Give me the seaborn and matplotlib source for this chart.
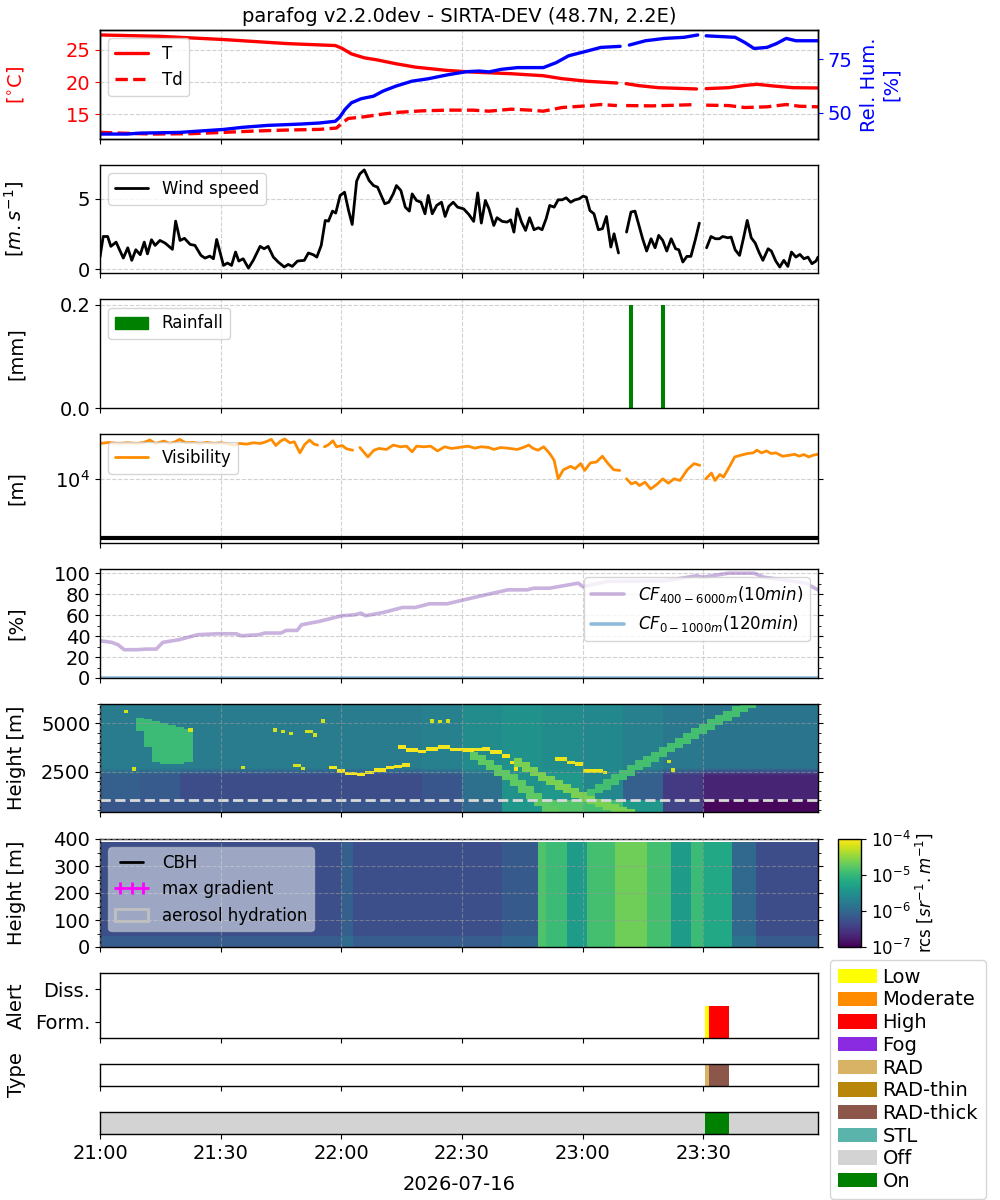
import numpy as np
import pandas as pd
import matplotlib
matplotlib.use("Agg")
import matplotlib.pyplot as plt
import matplotlib.dates as mdates
from matplotlib.colors import LogNorm
from matplotlib.lines import Line2D
from matplotlib.patches import Patch
from matplotlib.ticker import MultipleLocator, FixedLocator, NullLocator
import seaborn as sns

# ---------------------------------------------------------------- data
START = pd.Timestamp("2026-07-16 21:00")
DATE_LABEL = "2026-07-16"
TITLE = "parafog v2.2.0dev - SIRTA-DEV (48.7N, 2.2E)"
X_END_MIN = 178.5
nan = np.nan

# temperature / dew point / relative humidity (minutes after 21:00)
t_min = [0, 14.8, 30.7, 46.6, 54.5, 58.5, 60.1, 62.5, 65.7, 68.8, 73.6, 78.4, 86.3, 92.7,
         102.2, 110.2, 114.9, 121.3, 128.5, 129.7, 130.8, 134, 138.8, 143.6, 148.3, 149.5,
         150.7, 156.3, 160.3, 163.4, 167.4, 172.2, 178.5]
t_degc = [27.31, 27.1, 26.6, 25.97, 25.77, 25.67, 25.26, 24.38, 23.77, 23.46, 22.85, 22.33,
          21.82, 21.56, 21.31, 21.0, 20.54, 20.13, 19.87, nan, 19.77, 19.46, 19.15, 19.05,
          18.95, nan, 19.0, 19.15, 19.5, 19.67, 19.41, 19.15, 19.1]
td_min = [0, 6.8, 13.2, 22.7, 30.7, 38.6, 46.6, 54.5, 58.8, 60.1, 61.7, 65.7, 69.6, 73.6,
          80, 86.3, 92.7, 96.7, 102.2, 107, 110.2, 114.9, 119.7, 124.5, 128.5, 129.7, 130.8,
          137.2, 143.6, 148.3, 149.5, 150.7, 156.3, 160.3, 165.8, 170.6, 173.8, 178.5]
td_degc = [12.23, 12.08, 11.97, 12.03, 12.23, 12.44, 12.59, 12.69, 12.9, 13.62, 14.38,
           14.64, 15.0, 15.31, 15.56, 15.67, 15.67, 15.51, 15.82, 15.67, 15.51, 16.08, 16.28,
           16.54, 16.38, nan, 16.38, 16.33, 16.44, 16.54, nan, 16.44, 16.38, 16.08, 16.18,
           16.54, 16.28, 16.18]
rh_min = [0, 6.8, 10, 19.6, 25.9, 30.7, 35.5, 41.8, 49.8, 54.5, 58.5, 59.6, 60.9, 62.5,
          64.9, 68.0, 70.4, 73.6, 77.6, 81.6, 86.3, 91.1, 94.3, 96.7, 99.8, 103.8, 110.2,
          113.4, 116.5, 121.3, 124.5, 129.3, 130.2, 131.6, 135.6, 140.4, 145.2, 148.6, 149.6,
          150.7, 157.9, 160.3, 162.6, 165.8, 168.2, 170.6, 173, 178.5]
rh_pct = [40.16, 40.16, 40.6, 40.9, 41.7, 42.3, 43.3, 44.2, 44.8, 45.3, 46.1, 48.0, 51.6,
          54.7, 56.6, 57.8, 60.2, 62.5, 64.8, 65.9, 67.7, 69.2, 69.5, 69.1, 70.3, 71.1, 71.1,
          73.4, 76.6, 78.9, 80.5, 81.0, nan, 81.6, 83.6, 84.7, 85.2, 86.3, nan, 85.9, 85.2,
          82.8, 80.0, 80.5, 82.3, 84.7, 83.6, 83.6]

# wind speed
wind_min = [0, 0.8, 1.9, 2.7, 4, 5.8, 6.9, 7.9, 8.9, 10, 11, 11.8, 12.8, 13.7, 14.9, 16.2,
            18, 18.8, 19.9, 21, 22.4, 23.6, 25.1, 26.1, 27.3, 28.2, 29, 30.7, 31.7, 32.7,
            33.7, 34.5, 35.6, 36.9, 38.1, 39.8, 40.8, 41.8, 43.1, 44.3, 45.8, 46.8, 47.8,
            49.1, 50.8, 51.8, 53, 53.9, 55, 56, 56.8, 57.8, 58.6, 59.7, 60.8, 61.8, 62.7,
            63.8, 64.6, 65.7, 66.9, 68, 69, 70.8, 71.8, 72.9, 73.7, 74.8, 75.9, 76.9, 77.6,
            78.7, 79.8, 80.8, 81.6, 82.6, 83.7, 84.9, 85.8, 86.7, 87.8, 88.9, 90.4, 91.7,
            92.9, 93.9, 94.8, 95.8, 96.7, 97.9, 98.7, 100, 101.2, 102.1, 102.9, 103.7,
            104.8, 105.8, 106.8, 107.9, 109, 109.9, 110.9, 111.8, 112.9, 113.9, 114.9,
            115.9, 117, 118.1, 119.1, 120.1, 120.9, 121.8, 122.8, 123.9, 124.9, 125.9, 127,
            127.8, 128.9, 130, 130.9, 132, 133, 134.1, 134.9, 135.9, 137, 138, 138.9, 139.9,
            140.9, 142, 143.1, 143.9, 144.9, 145.9, 146.9, 148, 149, 150, 150.8, 151.9, 153,
            154, 154.8, 156.1, 156.9, 157.9, 159, 160, 160.9, 161.9, 162.9, 163.8, 164.8,
            166.1, 166.9, 168, 169, 170, 171, 171.9, 173, 174, 175, 176, 177, 178, 178.5]
wind_ms = [0.87, 2.33, 2.33, 1.63, 1.93, 0.8, 1.53, 0.64, 1.39, 1.04, 1.93, 1.1, 2.1, 1.7,
           2.05, 1.86, 1.42, 3.42, 2.05, 2.2, 1.77, 1.7, 0.99, 0.8, 0.94, 0.75, 2.12, 0.28,
           0.45, 0.28, 1.23, 0.59, 0.75, 0.09, 0.64, 1.63, 1.46, 1.63, 0.87, 0.52, 0.17,
           0.35, 0.21, 0.59, 0.64, 1.16, 1.04, 0.87, 1.7, 3.47, 3.42, 4.13, 3.99, 5.24, 5.47,
           4.17, 3.18, 6.25, 6.77, 7.05, 6.3, 5.94, 5.83, 4.65, 4.76, 5.35, 5.94, 5.59, 4.41,
           4.13, 5.35, 4.88, 4.76, 3.94, 5.24, 3.94, 4.53, 4.76, 3.75, 4.46, 4.76, 4.41,
           4.29, 3.89, 3.4, 5.42, 3.28, 4.88, 4.29, 3.11, 3.66, 3.4, 3.35, 3.51, 2.64, 4.29,
           3.35, 2.76, 3.66, 2.81, 2.95, 2.81, 3.58, 4.53, 4.41, 4.93, 4.93, 5.07, 4.76,
           4.93, 5.0, 5.19, 5.12, 4.17, 3.94, 2.81, 2.88, 3.75, 1.58, 2.52, 1.16, nan, 2.64,
           4.06, 4.13, 3.0, 2.17, 1.3, 2.17, 1.53, 2.41, 2.05, 1.3, 2.17, 1.46, 1.39, 0.52,
           0.92, 0.92, 2.1, 3.28, nan, 1.53, 2.33, 2.17, 2.17, 2.33, 2.24, 2.29, 1.39, 0.99,
           2.24, 3.47, 2.24, 1.86, 1.23, 0.64, 1.46, 1.3, 0.59, 0.17, 0.64, 0.21, 1.23, 0.87,
           1.06, 0.75, 0.87, 0.4, 0.59, 0.87]

# rainfall
rain_min = [132.0, 140.0]
rain_mm = [0.2, 0.2]

# visibility
vis_min = [0.1, 2.2, 4.5, 6.8, 9.2, 10.9, 12.4, 13.8, 15.9, 17.3, 18.7, 19.8, 21.3, 23.1,
           24.8, 26.6, 28.3, 30.0, 32.3, 33.5, 34.7, 36.4, 38.1, 39.9, 41.0, 42.6, 43.7,
           44.9, 45.9, 47.2, 48.3, 49.7, 50.9, 52.1, 53.2, 54.1, 55.0, 55.8, 56.7, 57.9,
           58.8, 60.2, 61.3, 62.8, 63.7, 64.6, 66.6, 68.1, 69.4, 71.2, 72.9, 74.7, 76.2,
           77.6, 78.7, 80.5, 82.2, 83.9, 85.7, 87.4, 89.2, 91.5, 93.2, 94.7, 96.7, 97.9,
           99.6, 101.9, 103.7, 105.2, 106.6, 107.7, 108.9, 110.3, 111.8, 112.9, 113.9,
           115.2, 117.0, 118.1, 119.5, 120.5, 121.9, 123.4, 124.9, 126.3, 127.7, 129.2,
           130.0, 130.9, 132.1, 133.2, 134.1, 135.5, 136.9, 138.4, 139.9, 141.3, 142.7,
           144.2, 146.0, 147.7, 149.1, 149.8, 150.6, 152.0, 152.9, 154.1, 155.0, 156.2,
           157.8, 159.3, 161.0, 162.4, 163.3, 164.5, 165.7, 166.8, 168.0, 169.7, 171.5,
           172.7, 173.8, 175.0, 176.2, 177.3, 178.4]
vis_m = [41200, 42900, 41200, 42300, 41200, 42900, 47100, 41200, 45200, 41200, 44000,
         48300, 42300, 42900, 41200, 42900, 41200, 42300, 40100, 38600, 41200, 40100, 42300,
         41200, 43400, 48300, 38000, 45200, 49000, 42300, 44000, 28400, 39600, 47100, 40100,
         38600, nan, 36100, 38600, 45800, 36100, 38000, 33300, 31600, nan, 35100, 24200,
         31600, 33800, 32500, 38600, 36100, 37000, 29600, 37000, 36100, 37000, 30700, 36100,
         33800, 35100, 37000, 34200, 36100, 35100, 32500, 35100, 33800, 32500, 35100, 38600,
         33800, 31600, 36100, 27700, 21200, 10200, 14600, 16700, 15200, 18600, 14200, 19100,
         19800, 24900, 18600, 14600, 14200, nan, 10200, 8360, 8940, 7820, 8940, 6850, 8140,
         10200, 8590, 10200, 9550, 14600, 18600, 17400, nan, 10200, 12800, 9550, 12100,
         10900, 15200, 24200, 25900, 27700, 28400, 31600, 28400, 30700, 27700, 28400, 24900,
         25900, 26900, 24900, 26600, 24200, 25900, 26900]
vis_fog_threshold = [1000]

# cloud fraction
cf_min = [0, 2.9, 4.5, 6.0, 9.2, 11.6, 14.0, 15.6, 19.6, 24.3, 29.1, 33.9, 35.1, 39.4, 41.0,
          45.0, 46.3, 49.0, 50.1, 54.5, 60.1, 63.3, 64.9, 66.0, 70.4, 75.2, 78.4, 81.9,
          86.3, 89.5, 95.9, 101.4, 106.2, 107.8, 111.8, 118.9, 120.0, 122.1, 126.1, 140.4,
          148.3, 149.9, 156.3, 162.6, 165.0, 175.4, 178.5]
cf_high_pct = [35.6, 34, 31.7, 27, 27, 27.6, 27.6, 34, 36.5, 41.3, 42.2, 42.2, 40.3, 41.3,
               42.9, 42.9, 45.4, 45.4, 50.8, 54, 59.4, 60.3, 61.9, 59.4, 62.5, 67.3, 67.3,
               70.8, 70.8, 73.7, 79.4, 84.1, 84.1, 85.7, 85.7, 90.5, 87.3, 88.9, 92.1, 92.7,
               97.5, 96.2, 100, 100, 96.2, 90.5, 84.1]
cf_low_min = [0, 178.5]
cf_low_pct = [0, 0]

# lidar 400-6000 m: background level (log10 rcs) per 10-min block, three height bands
hi_bg_low = [-6.2, -6.2, -6.2, -6.2, -6.2, -6.2, -6.2, -6.2, -6.2, -6.0, -5.4, -4.8, -4.9,
             -5.4, -6.4, -6.95, -6.95, -6.95]
hi_bg_mid = [-6.1, -6.15, -6.3, -6.3, -6.3, -6.3, -6.3, -6.3, -6.2, -5.9, -5.5, -5.4, -5.6,
             -6.1, -6.5, -6.7, -6.7, -6.7]
hi_bg_top = [-5.75, -5.75, -5.75, -5.75, -5.75, -5.75, -5.75, -5.75, -5.7, -5.55, -5.5,
             -5.55, -5.6, -5.7, -5.8, -5.85, -5.85, -5.85]
# virga / precipitation plumes: column time, bottom, top (m)
plume_l_min = [10, 12, 14, 16, 18, 20, 22]
plume_l_lo = [4600, 3800, 3000, 2900, 2900, 2900, 3000]
plume_l_hi = [5300, 5200, 5100, 5000, 4900, 4800, 4700]
plume_a_min = [93, 95, 97, 99, 101, 103, 105, 107, 109, 111, 113]
plume_a_lo = [3100, 2850, 2550, 2300, 2050, 1750, 1400, 1050, 700, 400, 400]
plume_a_hi = [3500, 3350, 3100, 2850, 2600, 2350, 2050, 1750, 1400, 1050, 700]
plume_b_min = [104, 106, 108, 110, 112, 114, 116, 118, 120, 122, 124, 126, 128, 130, 132]
plume_b_lo = [2750, 2500, 2250, 2000, 1800, 1550, 1350, 1150, 950, 800, 650, 500, 400, 400, 400]
plume_b_hi = [3200, 3000, 2750, 2500, 2300, 2050, 1850, 1650, 1450, 1250, 1100, 950, 800, 650, 550]
plume_c_min = [122, 124, 126, 128, 130, 132, 134, 136, 138, 140, 142, 144, 146, 148, 150,
               152, 154, 156, 158, 160, 162]
plume_c_lo = [1100, 1350, 1550, 1800, 2050, 2300, 2550, 2750, 3000, 3250, 3500, 3700, 3950,
              4200, 4450, 4650, 4900, 5100, 5350, 5600, 5800]
plume_c_hi = [1600, 1850, 2100, 2350, 2600, 2850, 3100, 3300, 3500, 3750, 4000, 4250, 4500,
              4750, 4950, 5200, 5400, 5650, 5900, 6000, 6000]
# thin cloud layers (time, height)
layer_dip_min = [56.7, 59, 61.3, 63.7, 66, 68.3, 70.6, 72.9, 75.2]
layer_dip_h = [2710, 2535, 2410, 2360, 2450, 2590, 2710, 2765, 2835]
layer_mid_min = [74, 76.4, 78.7, 81, 84.5, 86.8, 90.3, 92.6, 95, 97.3, 99.6, 102, 103]
layer_mid_h = [3770, 3595, 3540, 3680, 3770, 3650, 3595, 3650, 3680, 3505, 3295, 2975, 2625]
layer_late_min = [113.5, 115.8, 118, 120.5, 122.8, 125]
layer_late_h = [3150, 2975, 2890, 2535, 2535, 2450]
bits_min = [6, 8, 22, 34.7, 43, 45, 47, 48.5, 50, 51.5, 53, 55, 82, 84, 86, 140.8, 142]
bits_h = [5620, 2620, 4650, 2710, 4650, 4580, 4480, 2800, 2650, 4560, 4390, 5100, 5100,
          5080, 5100, 3000, 2600]

# lidar 0-400 m: column level (log10 rcs) from each start time
low_seg_min = [0, 60, 63, 100, 109, 111, 116, 121, 128, 136, 142, 147, 150, 157, 163]
low_seg_level = [-6.28, -6.1, -6.28, -6.16, -4.84, -4.96, -5.35, -4.9, -4.66, -4.9, -5.35,
                 -4.96, -5.2, -6.0, -6.3]

# alerts / fog type / detection state
alert_min = [150.4, 151.4, 152.4, 153.4, 154.4, 155.4]
alert_level = ["Low", "High", "High", "High", "High", "High"]
fog_type = ["RAD", "RAD-thick", "RAD-thick", "RAD-thick", "RAD-thick", "RAD-thick"]
state_min = [0, 150.4, 156.4]
state_val = ["Off", "On", "Off"]

LEGEND_NAMES = ["Low", "Moderate", "High", "Fog", "RAD", "RAD-thin", "RAD-thick", "STL", "Off", "On"]
LEGEND_COLORS = ["yellow", "darkorange", "red", "blueviolet", "#d8b365", "darkgoldenrod",
                 "#8c564b", "#5ab4ac", "lightgray", "green"]
COLOR = dict(zip(LEGEND_NAMES, LEGEND_COLORS))

# ---------------------------------------------------------------- style
sns.set_theme(context="notebook", style="ticks", rc={
    "font.size": 14, "axes.labelsize": 14, "axes.titlesize": 14,
    "xtick.labelsize": 14, "ytick.labelsize": 14, "legend.fontsize": 12,
    "axes.edgecolor": "black", "axes.linewidth": 1.0, "axes.labelcolor": "black",
    "text.color": "black", "xtick.color": "black", "ytick.color": "black",
    "xtick.major.size": 3.5, "ytick.major.size": 3.5, "xtick.minor.size": 2,
    "ytick.minor.size": 2, "xtick.major.width": 0.8, "ytick.major.width": 0.8,
    "xtick.minor.width": 0.6, "ytick.minor.width": 0.6,
    "legend.frameon": True, "legend.framealpha": 0.8, "legend.edgecolor": "0.8",
    "legend.fancybox": True,
})
plt.rcParams["font.family"] = ["DejaVu Sans"]

BASE = mdates.date2num(START.to_pydatetime())


def tnum(m):
    return BASE + np.asarray(m, float) / 1440.0


def seg_line(ax, m, v, **kw):
    m = np.asarray(m, float)
    v = np.asarray(v, float)
    br = np.where(np.isnan(v))[0]
    starts = np.r_[0, br + 1]
    ends = np.r_[br, len(v)]
    for s, e in zip(starts, ends):
        if e - s >= 2:
            sns.lineplot(x=tnum(m[s:e]), y=v[s:e], ax=ax, legend=False,
                         estimator=None, sort=False, **kw)


W, H = 1000, 1200
fig = plt.figure(figsize=(W / 100, H / 100), dpi=100)


def rect(top, bot, left=100, right=818):
    return [left / W, 1 - bot / H, (right - left) / W, (bot - top) / H]


ax_t = fig.add_axes(rect(30, 139))
ax_w = fig.add_axes(rect(165, 273))
ax_r = fig.add_axes(rect(299.5, 408.5))
ax_v = fig.add_axes(rect(434, 543))
ax_c = fig.add_axes(rect(569, 678))
ax_h = fig.add_axes(rect(704, 812))
ax_l = fig.add_axes(rect(839, 947))
cax = fig.add_axes(rect(839, 947, 838, 861))
ax_a = fig.add_axes(rect(973, 1038))
ax_y = fig.add_axes(rect(1064, 1086))
ax_o = fig.add_axes(rect(1112, 1134))
all_ax = [ax_t, ax_w, ax_r, ax_v, ax_c, ax_h, ax_l, ax_a, ax_y, ax_o]

GRID = dict(linestyle="--", color="0.82", linewidth=0.8)
LAB_X = -0.103
BAR = dict(edgecolor="none", linewidth=0)

# ---- temperature / RH
seg_line(ax_t, t_min, t_degc, color="red", linewidth=2.4)
seg_line(ax_t, td_min, td_degc, color="red", linewidth=2.4, linestyle="--")
ax_rh = ax_t.twinx()
seg_line(ax_rh, rh_min, rh_pct, color="blue", linewidth=2.4)
ax_t.set_ylabel(r"[$^{\circ}$C]", color="red")
ax_t.tick_params(axis="y", colors="red")
ax_rh.tick_params(axis="y", colors="blue")
ax_rh.set_ylabel("Rel. Hum.\n[%]", color="blue")
ax_rh.yaxis.set_label_coords(1.058, 0.5)
ax_t.set_yticks([15, 20, 25])
ax_rh.set_yticks([50, 75])
ax_t.grid(True, **GRID)
ax_t.set_title(TITLE, fontsize=14)
ax_t.legend(handles=[Line2D([], [], color="red", lw=2.4, label="T"),
                     Line2D([], [], color="red", lw=2.4, ls="--", label="Td")],
            loc="upper left")

# ---- wind
seg_line(ax_w, wind_min, wind_ms, color="black", linewidth=2.0)
ax_w.set_ylabel(r"[$m.s^{-1}$]")
ax_w.set_yticks([0, 5])
ax_w.grid(True, **GRID)
ax_w.legend(handles=[Line2D([], [], color="black", lw=2, label="Wind speed")], loc="upper left")

# ---- rain
ax_r.bar(tnum(rain_min), rain_mm, width=1.0 / 1440, color="green", align="center", **BAR)
ax_r.set_ylim(0, 0.21)
ax_r.set_yticks([0.0, 0.2])
ax_r.set_yticklabels(["0.0", "0.2"])
ax_r.set_ylabel("[mm]")
ax_r.grid(True, **GRID)
ax_r.legend(handles=[Patch(color="green", label="Rainfall")], loc="upper left")

# ---- visibility
seg_line(ax_v, vis_min, vis_m, color="darkorange", linewidth=2.0)
ax_v.set_yscale("log")
ax_v.axhline(vis_fog_threshold[0], color="black", lw=3)
ax_v.set_ylim(811, 59800)
ax_v.yaxis.set_major_locator(FixedLocator([1e4]))
ax_v.yaxis.set_minor_locator(NullLocator())
ax_v.set_ylabel("[m]")
ax_v.grid(True, **GRID)
ax_v.tick_params(axis="y", which="both", right=True)
ax_v.legend(handles=[Line2D([], [], color="darkorange", lw=2, label="Visibility")], loc="upper left")

# ---- cloud fraction
cf_hi_col = (0.58, 0.40, 0.74, 0.5)
cf_lo_col = (0.12, 0.47, 0.71, 0.5)
seg_line(ax_c, cf_min, cf_high_pct, color=cf_hi_col, linewidth=2.6)
seg_line(ax_c, cf_low_min, cf_low_pct, color=cf_lo_col, linewidth=2.6)
ax_c.set_ylim(0, 104)
ax_c.yaxis.set_major_locator(MultipleLocator(20))
ax_c.yaxis.set_minor_locator(MultipleLocator(10))
ax_c.tick_params(axis="y", which="both", right=True)
ax_c.set_ylabel("[%]")
ax_c.grid(True, **GRID)
ax_c.legend(handles=[Line2D([], [], color=cf_hi_col, lw=2.6, label=r"$CF_{400-6000m}(10min)$"),
                     Line2D([], [], color=cf_lo_col, lw=2.6, label=r"$CF_{0-1000m}(120min)$")],
            loc="upper right")

# ---- lidar high
norm = LogNorm(1e-7, 1e-4)
hi_t_edges = np.arange(0, 180, 1.0)
hi_h_edges = np.arange(400, 6001, 30.0)
tc = 0.5 * (hi_t_edges[:-1] + hi_t_edges[1:])
hc = 0.5 * (hi_h_edges[:-1] + hi_h_edges[1:])
TT, HH = np.meshgrid(tc, hc)
blk = np.minimum((TT // 10).astype(int), 17)
b_low = np.asarray(hi_bg_low)[blk]
b_mid = np.asarray(hi_bg_mid)[blk]
b_top = np.asarray(hi_bg_top)[blk]
w_top = np.clip((HH - 2300) / 400, 0, 1)
field = np.where(HH < 1000, b_low, (1 - w_top) * b_mid + w_top * b_top)


def add_cols(f, mins, los, his, level):
    for m, lo, hi in zip(mins, los, his):
        sel = (TT >= m - 1) & (TT < m + 1) & (HH >= lo) & (HH <= hi)
        f[sel] = np.maximum(f[sel], level)


def add_layer(f, mins, hs, level, half=90, last_w=1.5, joined=True):
    for i, (m, h) in enumerate(zip(mins, hs)):
        m2 = mins[i + 1] if (joined and i + 1 < len(mins)) else m + last_w
        sel = (TT >= m) & (TT < m2) & (np.abs(HH - h) <= half)
        f[sel] = np.maximum(f[sel], level)


add_cols(field, plume_l_min, plume_l_lo, plume_l_hi, -4.95)
add_cols(field, plume_a_min, plume_a_lo, plume_a_hi, -4.75)
add_cols(field, plume_b_min, plume_b_lo, plume_b_hi, -4.6)
add_cols(field, plume_c_min, plume_c_lo, plume_c_hi, -4.9)
add_layer(field, layer_dip_min, layer_dip_h, -4.05)
add_layer(field, layer_mid_min, layer_mid_h, -4.05)
add_layer(field, layer_late_min, layer_late_h, -4.1)
add_layer(field, bits_min, bits_h, -4.2, joined=False)

ax_h.pcolormesh(tnum(hi_t_edges), hi_h_edges, 10 ** field, cmap="viridis", norm=norm,
                shading="flat", rasterized=True)
ax_h.axhline(1000, color="0.85", ls="--", lw=2)
ax_h.set_ylim(400, 6000)
ax_h.yaxis.set_major_locator(MultipleLocator(2500))
ax_h.yaxis.set_minor_locator(MultipleLocator(500))
ax_h.tick_params(axis="y", which="both", right=True)
ax_h.set_ylabel("Height [m]")
ax_h.set_axisbelow(False)
ax_h.grid(True, linestyle="--", color="0.6", linewidth=0.8, alpha=0.6)

# ---- lidar low
lo_t_edges = np.arange(0, 180, 1.0)
lo_h_edges = np.arange(0, 391, 10.0)
ltc = 0.5 * (lo_t_edges[:-1] + lo_t_edges[1:])
lhc = 0.5 * (lo_h_edges[:-1] + lo_h_edges[1:])
LT, LH = np.meshgrid(ltc, lhc)
seg_idx = np.searchsorted(low_seg_min, LT, side="right") - 1
lfield = np.asarray(low_seg_level)[seg_idx]
ground = (LH < 45) & (lfield < -5.5)
lfield = np.where(ground, lfield + 0.15, lfield)
mesh = ax_l.pcolormesh(tnum(lo_t_edges), lo_h_edges, 10 ** lfield, cmap="viridis",
                       norm=norm, shading="flat", rasterized=True)
ax_l.set_ylim(0, 400)
ax_l.yaxis.set_major_locator(MultipleLocator(100))
ax_l.yaxis.set_minor_locator(MultipleLocator(50))
ax_l.tick_params(axis="y", which="both", right=True)
ax_l.set_ylabel("Height [m]")
ax_l.set_axisbelow(False)
ax_l.grid(True, linestyle="--", color="0.6", linewidth=0.8, alpha=0.6)
ax_l.legend(handles=[Line2D([], [], color="black", lw=2, label="CBH"),
                     Line2D([], [], ls="none", marker="+", color="magenta", ms=8, mew=2,
                            label="max gradient"),
                     Patch(facecolor="none", edgecolor="silver", lw=2, label="aerosol hydration")],
            loc="upper left", framealpha=0.5, numpoints=3)
cb = fig.colorbar(mesh, cax=cax)
cb.set_ticks([1e-7, 1e-6, 1e-5, 1e-4])
cb.ax.minorticks_off()
cb.ax.tick_params(labelsize=12)
cb.set_label(r"rcs [$sr^{-1}.m^{-1}$]", fontsize=12, labelpad=2)

# ---- alert
wmin = 1.0 / 1440
ax_a.bar(tnum(alert_min), [1.0] * len(alert_min), width=wmin, bottom=-0.5, align="edge",
         color=[COLOR[a] for a in alert_level], **BAR)
ax_a.set_ylim(-0.5, 1.5)
ax_a.set_yticks([0, 1])
ax_a.set_yticklabels(["Form.", "Diss."])
ax_a.set_ylabel("Alert")

# ---- fog type
ax_y.bar(tnum(alert_min), [1.0] * len(alert_min), width=wmin, bottom=0, align="edge",
         color=[COLOR[f] for f in fog_type], **BAR)
ax_y.set_ylim(0, 1)
ax_y.set_yticks([])
ax_y.set_ylabel("Type")

# ---- on / off
st_end = list(state_min[1:]) + [X_END_MIN]
st_width = (np.asarray(st_end) - np.asarray(state_min)) / 1440.0
ax_o.bar(tnum(state_min), [1.0] * len(state_min), width=st_width, bottom=0, align="edge",
         color=[COLOR[s] for s in state_val], **BAR)
ax_o.set_ylim(0, 1)
ax_o.set_yticks([])

# ---- shared x axis
for ax in all_ax + [ax_rh]:
    ax.set_xlim(tnum(0), tnum(X_END_MIN))
    ax.xaxis.set_major_locator(mdates.MinuteLocator(byminute=[0, 30]))
    ax.xaxis.set_major_formatter(mdates.DateFormatter("%H:%M"))
    ax.set_xlabel("")
for ax in all_ax[:-1]:
    ax.tick_params(axis="x", labelbottom=False)
for ax in all_ax:
    ax.yaxis.set_label_coords(LAB_X, 0.5)
ax_o.set_xlabel(DATE_LABEL, labelpad=9)

# ---- right legend
handles = [Patch(facecolor=c, edgecolor="none", label=n) for n, c in zip(LEGEND_NAMES, LEGEND_COLORS)]
fig.legend(handles=handles, loc="upper left", bbox_to_anchor=(0.830, 1 - 960 / H),
           borderaxespad=0, fontsize=14, labelspacing=0.19, handletextpad=0.3,
           handlelength=2.0, handleheight=0.75)

fig.savefig("out.png", dpi=100)
